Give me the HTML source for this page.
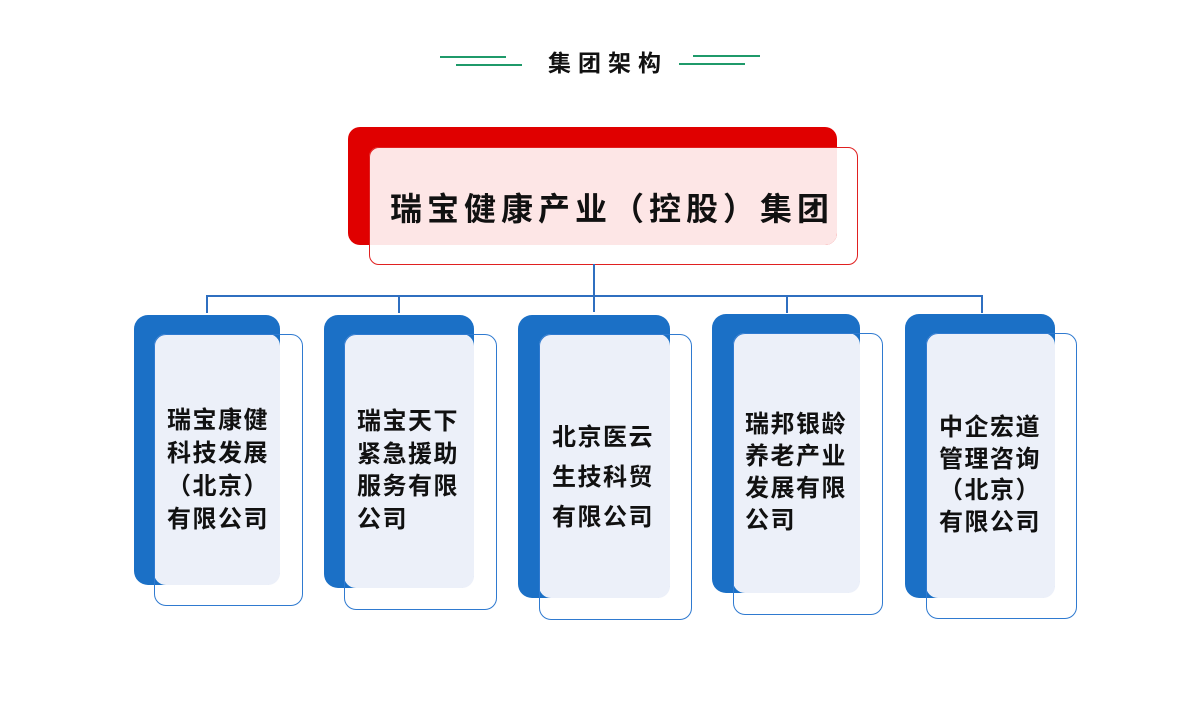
<!DOCTYPE html>
<html><head><meta charset="utf-8"><style>
body{margin:0;width:1196px;height:703px;background:#fff;position:relative;overflow:hidden;font-family:"Liberation Sans","Noto Sans CJK SC",sans-serif;}
.a{position:absolute;box-sizing:border-box;}
.ln{position:absolute;background:#1f9a6a;height:2px;}
.bl{position:absolute;background:#2f6fc0;}
.back{position:absolute;background:#1b70c6;border-radius:14px;}
.ov{position:absolute;background:#ecf0f9;border-radius:12px;}
.fr{position:absolute;box-sizing:border-box;border:1.5px solid #2f7ad0;border-radius:12px;}
.t{position:absolute;font-size:24px;color:#111;letter-spacing:1.5px;white-space:nowrap;font-weight:bold;}
</style></head><body>
<div class="ln" style="left:440px;top:56px;width:66px"></div>
<div class="ln" style="left:456px;top:64px;width:66px"></div>
<div class="ln" style="left:693px;top:55px;width:67px"></div>
<div class="ln" style="left:679px;top:63px;width:66px"></div>
<div class="t" style="left:548px;top:44px;font-size:23px;letter-spacing:7px">集团架构</div>

<div class="a" style="left:348px;top:127px;width:489px;height:118px;background:#e00000;border-radius:12px"></div>
<div class="a" style="left:369px;top:147px;width:468px;height:98px;background:#fde6e6;border-radius:10px 0 12px 0"></div>
<div class="a" style="left:369px;top:147px;width:489px;height:118px;border:1.5px solid #e02020;border-radius:10px"></div>
<div class="t" style="left:390px;top:184px;font-size:32px;letter-spacing:5px">瑞宝健康产业（控股）集团</div>

<div class="bl" style="left:593px;top:264px;width:1.5px;height:48px"></div>
<div class="bl" style="left:207px;top:295px;width:776px;height:1.5px"></div>
<div class="bl" style="left:206px;top:295px;width:1.5px;height:18px"></div>
<div class="bl" style="left:398px;top:295px;width:1.5px;height:18px"></div>
<div class="bl" style="left:786px;top:295px;width:1.5px;height:18px"></div>
<div class="bl" style="left:981px;top:295px;width:1.5px;height:18px"></div>

<div class="back" style="left:134px;top:315px;width:146px;height:270px"></div>
<div class="ov" style="left:154px;top:334px;width:126px;height:251px"></div>
<div class="fr" style="left:154px;top:334px;width:149px;height:272px"></div>
<div class="t" style="left:167px;top:404px;line-height:33px;text-align:center">瑞宝康健<br>科技发展<br>（北京）<br>有限公司</div>

<div class="back" style="left:324px;top:315px;width:150px;height:273px"></div>
<div class="ov" style="left:344px;top:334px;width:130px;height:254px"></div>
<div class="fr" style="left:344px;top:334px;width:153px;height:276px"></div>
<div class="t" style="left:357px;top:406px;line-height:32.5px">瑞宝天下<br>紧急援助<br>服务有限<br>公司</div>

<div class="back" style="left:518px;top:315px;width:152px;height:283px"></div>
<div class="ov" style="left:539px;top:334px;width:131px;height:264px"></div>
<div class="fr" style="left:539px;top:334px;width:153px;height:286px"></div>
<div class="t" style="left:552px;top:418px;line-height:40px">北京医云<br>生技科贸<br>有限公司</div>

<div class="back" style="left:712px;top:314px;width:148px;height:279px"></div>
<div class="ov" style="left:733px;top:333px;width:127px;height:260px"></div>
<div class="fr" style="left:733px;top:333px;width:150px;height:282px"></div>
<div class="t" style="left:745px;top:409px;line-height:32px">瑞邦银龄<br>养老产业<br>发展有限<br>公司</div>

<div class="back" style="left:905px;top:314px;width:150px;height:284px"></div>
<div class="ov" style="left:926px;top:333px;width:129px;height:265px"></div>
<div class="fr" style="left:926px;top:333px;width:151px;height:286px"></div>
<div class="t" style="left:939px;top:412px;line-height:31.5px;text-align:center">中企宏道<br>管理咨询<br>（北京）<br>有限公司</div>
</body></html>
